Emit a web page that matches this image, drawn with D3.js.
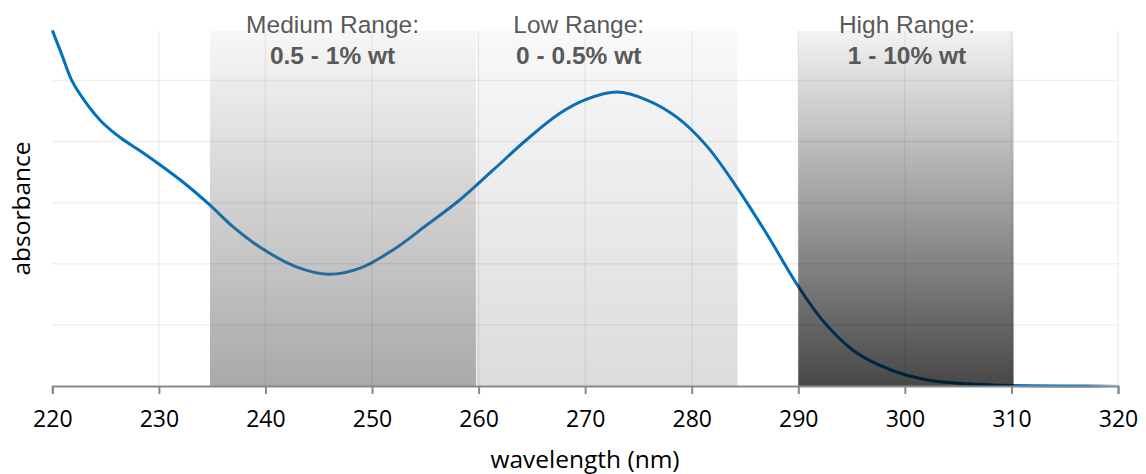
<!DOCTYPE html>
<html>
<head>
<meta charset="utf-8">
<script src="https://cdn.jsdelivr.net/npm/d3@7"></script>
<style>
  html, body { margin: 0; padding: 0; background: #fff; }
  svg { display: block; }
</style>
</head>
<body>
<svg id="chart" width="1146" height="474"></svg>
<script>
// ---- data ----
const wavelengths = [220, 220.9, 221.8, 223.1, 224.6, 226.5, 228.4, 230.1, 232.6, 234.8, 237, 239.5, 242.9, 245.9, 248.9, 252, 255.1, 258.2, 261.4, 264.5, 267.6, 270.1, 273, 275.8, 278.6, 281.4, 284.2, 287, 290, 292.3, 295.1, 297.6, 300.1, 302.6, 305.1, 308.3, 312, 316, 320];
const absorbance = [5.82, 5.42, 5.01, 4.65, 4.33, 4.05, 3.83, 3.62, 3.29, 2.96, 2.60, 2.27, 1.95, 1.83, 1.93, 2.23, 2.63, 3.04, 3.54, 4.03, 4.46, 4.69, 4.81, 4.68, 4.40, 3.93, 3.26, 2.50, 1.63, 1.07, 0.59, 0.34, 0.18, 0.087, 0.044, 0.016, 0.004, 0.001, 0];
const xTicks = [220, 230, 240, 250, 260, 270, 280, 290, 300, 310, 320];
const yGrid = [1, 2, 3, 4, 5];
const rangeNames = ["Medium Range:", "Low Range:", "High Range:"];
const rangeValues = ["0.5 - 1% wt", "0 - 0.5% wt", "1 - 10% wt"];
const rangeStart = [234.8, 259.8, 290.0];
const rangeEnd = [259.75, 284.3, 310.2];
const rangeLabelAt = [246.3, 269.4, 300.2];
const xTitle = "wavelength (nm)";
const yTitle = "absorbance";

// ---- styles (kept separate from data) ----
const rangeStyles = [
  { color: "#646464", top: 0.05, bottom: 0.555 },
  { color: "#646464", top: 0.04, bottom: 0.226 },
  { color: "#000000", top: 0.047, bottom: 0.72 }
];

const svg = d3.select("#chart");
const x = d3.scaleLinear().domain([220, 320]).range([52.3, 1118]);
const y = d3.scaleLinear().domain([0, 5.81]).range([386, 31]);

const defs = svg.append("defs");
rangeStyles.forEach((s, i) => {
  const g = defs.append("linearGradient").attr("id", "rg" + i)
    .attr("x1", 0).attr("y1", 0).attr("x2", 0).attr("y2", 1);
  g.append("stop").attr("offset", "0%").attr("stop-color", s.color).attr("stop-opacity", s.top);
  g.append("stop").attr("offset", "100%").attr("stop-color", s.color).attr("stop-opacity", s.bottom);
});
const lg = defs.append("linearGradient").attr("id", "lineFade")
  .attr("gradientUnits", "userSpaceOnUse")
  .attr("x1", x(220)).attr("x2", x(320)).attr("y1", 0).attr("y2", 0);
lg.append("stop").attr("offset", "0%").attr("stop-color", "#0070c0").attr("stop-opacity", 1);
lg.append("stop").attr("offset", ((x(317) - x(220)) / (x(320) - x(220)) * 100) + "%").attr("stop-color", "#0070c0").attr("stop-opacity", 1);
lg.append("stop").attr("offset", "100%").attr("stop-color", "#0070c0").attr("stop-opacity", 0.15);

// curve
const pts = wavelengths.map((w, i) => [w, absorbance[i]]);
const line = d3.line().x(d => x(d[0])).y(d => y(d[1])).curve(d3.curveCatmullRom.alpha(0.5));
svg.append("path").datum(pts)
  .attr("d", line)
  .attr("fill", "none")
  .attr("stroke", "url(#lineFade)")
  .attr("stroke-width", 3)
  .attr("stroke-linejoin", "round");

// range rectangles (overlay)
svg.append("g").selectAll("rect").data(rangeStart).join("rect")
  .attr("x", (d) => x(d))
  .attr("y", y(5.81))
  .attr("width", (d, i) => x(rangeEnd[i]) - x(d))
  .attr("height", y(0) - y(5.81))
  .attr("fill", (d, i) => "url(#rg" + i + ")");

// gridlines (on top, translucent)
const grid = svg.append("g");
grid.selectAll("line.h").data(yGrid).join("line").attr("class", "h")
  .attr("x1", x(220)).attr("x2", x(320))
  .attr("y1", d => y(d)).attr("y2", d => y(d))
  .attr("stroke", "#000").attr("stroke-opacity", 0.06).attr("stroke-width", 1.5);
grid.selectAll("line.v").data(xTicks.slice(1)).join("line").attr("class", "v")
  .attr("x1", d => x(d)).attr("x2", d => x(d))
  .attr("y1", y(5.81)).attr("y2", y(0))
  .attr("stroke", "#000").attr("stroke-opacity", 0.06).attr("stroke-width", 1.5);

// x axis
const xAxis = d3.axisBottom(x).tickValues(xTicks).tickSize(8).tickPadding(17).tickFormat(d3.format("d"));
const ax = svg.append("g").attr("transform", `translate(0,${y(0)})`).call(xAxis);
ax.select(".domain").attr("stroke", "#898989").attr("stroke-width", 2);
ax.selectAll(".tick line").attr("stroke", "#898989").attr("stroke-width", 2);
ax.selectAll(".tick text")
  .attr("fill", "#000")
  .style("font-family", "'Open Sans', sans-serif")
  .style("font-size", "23px");

// axis titles
svg.append("text")
  .attr("x", 585).attr("y", 468)
  .attr("text-anchor", "middle")
  .style("font-family", "'Open Sans', sans-serif")
  .style("font-size", "24.5px")
  .attr("fill", "#000")
  .text(xTitle);
svg.append("text")
  .attr("transform", "translate(30,208.5) rotate(-90)")
  .attr("text-anchor", "middle")
  .style("font-family", "'Open Sans', sans-serif")
  .style("font-size", "24.5px")
  .attr("fill", "#000")
  .text(yTitle);

// range labels
const lab = svg.append("g");
lab.selectAll("text.n").data(rangeNames).join("text").attr("class", "n")
  .attr("x", (d, i) => x(rangeLabelAt[i])).attr("y", 32.5)
  .attr("text-anchor", "middle")
  .style("font-family", "'Liberation Sans', Arial, sans-serif")
  .style("font-size", "24.5px")
  .attr("fill", "#595959")
  .text(d => d);
lab.selectAll("text.v").data(rangeValues).join("text").attr("class", "v")
  .attr("x", (d, i) => x(rangeLabelAt[i])).attr("y", 64)
  .attr("text-anchor", "middle")
  .style("font-family", "'Liberation Sans', Arial, sans-serif")
  .style("font-size", "24.5px")
  .style("font-weight", "bold")
  .attr("fill", "#595959")
  .text(d => d);
</script>
</body>
</html>
